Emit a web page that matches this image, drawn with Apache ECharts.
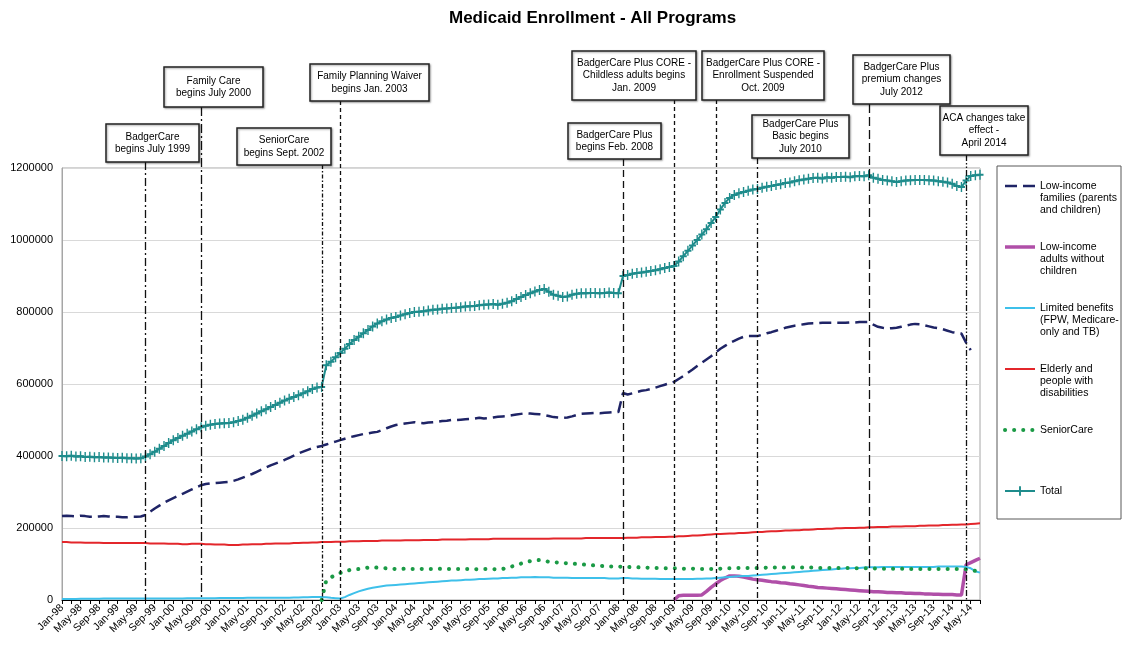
<!DOCTYPE html>
<html>
<head>
<meta charset="utf-8">
<script src="https://cdn.jsdelivr.net/npm/echarts@6/dist/echarts.min.js"></script>
<style>
  html, body { margin: 0; padding: 0; background: #fff; }
  #chart { width: 1122px; height: 645px; }
</style>
</head>
<body>
<div id="chart"></div>
<script>
// month labels Jan-98 .. Jul-14
const monthNames = ['Jan', 'Feb', 'Mar', 'Apr', 'May', 'Jun', 'Jul', 'Aug', 'Sep', 'Oct', 'Nov', 'Dec']
const firstYear = 1998
const lastYear = 2014
const lastMonthOfLastYear = 7

const seriesNames = [
  'Low-income families (parents and children)',
  'Low-income adults without children',
  'Limited benefits (FPW, Medicare-only and TB)',
  'Elderly and people with disabilities',
  'SeniorCare',
  'Total'
]
const legendLabels = [
  'Low-income\nfamilies (parents\nand children)',
  'Low-income\nadults without\nchildren',
  'Limited benefits\n(FPW, Medicare-\nonly and TB)',
  'Elderly and\npeople with\ndisabilities',
  'SeniorCare',
  'Total'
]

// monthly values, one row per year
const families = [
  233000, 234000, 233000, 232000, 234000, 233000, 231000, 231000, 232000, 233000, 232000, 231000,
  231000, 230000, 230000, 231000, 231000, 232000, 236000, 245000, 254000, 262000, 270000, 277000,
  283000, 289000, 295000, 301000, 307000, 313000, 319000, 322000, 324000, 325000, 326000, 327000,
  328000, 331000, 335000, 340000, 345000, 350000, 356000, 362000, 368000, 374000, 379000, 384000,
  389000, 395000, 401000, 407000, 412000, 417000, 422000, 425000, 428000, 432000, 436000, 440000,
  444000, 448000, 452000, 455000, 458000, 461000, 463000, 465000, 467000, 472000, 477000, 482000,
  486000, 488000, 490000, 492000, 494000, 492000, 491000, 493000, 494000, 495000, 497000, 498000,
  500000, 500000, 501000, 502000, 503000, 504000, 506000, 504000, 505000, 507000, 509000, 510000,
  511000, 513000, 515000, 517000, 519000, 518000, 517000, 516000, 514000, 511000, 508000, 507000,
  506000, 507000, 510000, 514000, 517000, 518000, 519000, 520000, 519000, 520000, 521000, 522000,
  522000, 575000, 571000, 574000, 578000, 581000, 583000, 586000, 590000, 594000, 598000, 602000,
  606000, 614000, 622000, 631000, 640000, 650000, 659000, 668000, 677000, 688000, 698000, 706000,
  714000, 720000, 726000, 731000, 733000, 733000, 733000, 737000, 741000, 744000, 748000, 752000,
  756000, 759000, 762000, 764000, 766000, 768000, 769000, 769000, 770000, 770000, 770000, 770000,
  770000, 770000, 771000, 771000, 772000, 772000, 772000, 765000, 759000, 756000, 754000, 755000,
  756000, 759000, 762000, 765000, 767000, 766000, 763000, 760000, 757000, 755000, 752000, 748000,
  744000, 742000, 740000, 715000, 694000
]
const adultsStart = 'Jan-09'
const adults = [
  0, 12000, 13000, 13000, 13000, 13000, 14000, 24000, 35000, 45000, 54000, 61000,
  67000, 67000, 66000, 64000, 61000, 58000, 56000, 55000, 53000, 51000, 50000, 48000,
  47000, 45000, 44000, 42000, 40000, 38000, 37000, 35000, 34000, 33000, 32000, 31000,
  30000, 29000, 28000, 27000, 26000, 25000, 24000, 23000, 23000, 22000, 21000, 21000,
  20000, 20000, 19000, 19000, 18000, 18000, 17000, 17000, 16000, 16000, 15000, 15000,
  15000, 14000, 14000, 98000, 104000, 110000, 116000
]
const limited = [
  3000, 3000, 3000, 3000, 3500, 3500, 3500, 3500, 3500, 4000, 4000, 4000,
  4000, 4000, 4000, 4000, 4000, 4500, 4500, 4500, 4500, 4500, 4500, 4500,
  4500, 4500, 4500, 5000, 5000, 5000, 5000, 5000, 5000, 5000, 5500, 5500,
  5500, 5500, 5500, 5500, 6000, 6000, 6000, 6000, 6000, 6000, 6000, 6000,
  6000, 6500, 7000, 7000, 7500, 7500, 8000, 8000, 8000, 7500, 6000, 5000,
  4000, 8000, 14000, 19000, 24000, 28000, 31000, 34000, 36000, 38000, 40000, 41000,
  42000, 43000, 44000, 45000, 46000, 47000, 48000, 49000, 50000, 51000, 52000, 53000,
  54000, 54000, 55000, 56000, 56000, 57000, 58000, 58000, 59000, 60000, 60000, 61000,
  61000, 62000, 62000, 63000, 63000, 63000, 64000, 63000, 63000, 63000, 62000, 62000,
  62000, 62000, 61000, 61000, 61000, 61000, 61000, 61000, 61000, 61000, 60000, 60000,
  60000, 61000, 61000, 60000, 60000, 59000, 59000, 59000, 59000, 58000, 58000, 58000,
  58000, 58000, 58000, 58000, 58000, 59000, 59000, 60000, 60000, 61000, 62000, 63000,
  64000, 65000, 66000, 67000, 67000, 68000, 69000, 70000, 71000, 72000, 73000, 74000,
  75000, 76000, 77000, 78000, 79000, 80000, 81000, 82000, 83000, 84000, 85000, 86000,
  87000, 88000, 88000, 89000, 89000, 90000, 91000, 91000, 91000, 92000, 92000, 92000,
  92000, 92000, 92000, 92000, 92000, 92000, 92000, 92000, 92000, 93000, 93000, 93000,
  93000, 93000, 93000, 92000, 88000, 80000, 76000
]
const elderly = [
  161000, 161000, 160000, 160000, 160000, 159000, 159000, 159000, 159000, 158000, 158000, 158000,
  158000, 158000, 158000, 158000, 158000, 158000, 158000, 157000, 157000, 157000, 157000, 156000,
  156000, 156000, 155000, 155000, 156000, 156000, 156000, 155000, 155000, 154000, 154000, 154000,
  153000, 153000, 153000, 154000, 154000, 155000, 155000, 155000, 156000, 156000, 157000, 157000,
  157000, 157000, 158000, 158000, 159000, 159000, 160000, 160000, 161000, 161000, 161000, 162000,
  162000, 162000, 163000, 163000, 163000, 164000, 164000, 164000, 164000, 165000, 165000, 165000,
  165000, 165000, 166000, 166000, 166000, 166000, 167000, 167000, 167000, 167000, 168000, 168000,
  168000, 168000, 168000, 168000, 169000, 169000, 169000, 169000, 169000, 170000, 170000, 170000,
  170000, 170000, 170000, 170000, 170000, 170000, 170000, 170000, 170000, 170000, 171000, 171000,
  171000, 171000, 171000, 171000, 171000, 172000, 172000, 172000, 172000, 172000, 172000, 172000,
  172000, 172000, 173000, 173000, 173000, 174000, 174000, 174000, 175000, 175000, 175000, 176000,
  176000, 177000, 177000, 178000, 179000, 179000, 180000, 181000, 182000, 183000, 183000, 184000,
  185000, 185000, 186000, 186000, 187000, 188000, 189000, 189000, 190000, 191000, 191000, 192000,
  193000, 193000, 194000, 194000, 195000, 195000, 196000, 197000, 197000, 198000, 198000, 199000,
  199000, 200000, 200000, 200000, 201000, 201000, 202000, 202000, 203000, 203000, 203000, 204000,
  204000, 204000, 205000, 205000, 205000, 206000, 206000, 207000, 207000, 207000, 208000, 208000,
  209000, 209000, 210000, 210000, 211000, 212000, 213000
]
const seniorStart = 'Sep-02'
const seniorCare = [
  0, 55000, 63000, 69000,
  75000, 80000, 83000, 85000, 86000, 88000, 90000, 91000, 90000, 89000, 88000, 87000,
  86000, 86000, 87000, 86000, 86000, 87000, 86000, 86000, 86000, 87000, 86000, 86000,
  86000, 86000, 86000, 86000, 86000, 86000, 85000, 86000, 86000, 86000, 85000, 86000,
  89000, 93000, 97000, 101000, 105000, 108000, 110000, 111000, 109000, 106000, 105000, 104000,
  103000, 102000, 101000, 100000, 99000, 98000, 97000, 96000, 95000, 94000, 93000, 93000,
  93000, 92000, 92000, 91000, 91000, 90000, 90000, 89000, 89000, 89000, 88000, 88000,
  88000, 88000, 87000, 87000, 87000, 86000, 86000, 86000, 86000, 86000, 87000, 88000,
  88000, 89000, 89000, 89000, 89000, 89000, 89000, 89000, 90000, 90000, 90000, 90000,
  90000, 90000, 91000, 90000, 90000, 90000, 90000, 89000, 89000, 89000, 89000, 89000,
  89000, 89000, 89000, 88000, 88000, 88000, 88000, 88000, 87000, 87000, 87000, 87000,
  87000, 87000, 87000, 86000, 86000, 86000, 86000, 86000, 86000, 86000, 86000, 86000,
  86000, 86000, 86000, 85000, 82000, 81000, 82000
]
const total = [
  400000, 399000, 400500, 398500, 399000, 397500, 398000, 396500, 397000, 396000, 395500, 395000,
  394500, 395000, 393500, 394000, 393000, 393500, 398500, 405000, 412000, 420000, 428000, 436000,
  444000, 450000, 456000, 462000, 468000, 474000, 480000, 484000, 487000, 489000, 490000, 491000,
  492000, 494000, 497000, 501000, 506000, 512000, 518000, 524000, 530000, 536000, 542000, 548000,
  554000, 559000, 564000, 569000, 574000, 580000, 586000, 590000, 592000, 652000, 662000, 674000,
  686000, 698000, 711000, 722000, 731000, 741000, 750000, 760000, 768000, 774000, 779000, 783000,
  786000, 790000, 794000, 797000, 800000, 801000, 802000, 804000, 806000, 807000, 809000, 810000,
  811000, 812000, 813000, 815000, 816000, 817000, 819000, 820000, 821000, 822000, 820000, 823000,
  826000, 830000, 836000, 842000, 847000, 852000, 857000, 861000, 864000, 856000, 848000, 845000,
  842000, 843000, 848000, 851000, 852000, 852000, 853000, 853000, 852000, 853000, 854000, 853000,
  852000, 900000, 903000, 906000, 908000, 910000, 912000, 914000, 916000, 919000, 922000, 925000,
  928000, 940000, 955000, 970000, 985000, 1000000, 1015000, 1030000, 1047000, 1064000, 1085000, 1103000,
  1117000, 1125000, 1130000, 1133000, 1137000, 1140000, 1142000, 1145000, 1148000, 1150000, 1153000, 1155000,
  1158000, 1160000, 1163000, 1166000, 1168000, 1170000, 1172000, 1173000, 1171000, 1174000, 1173000, 1175000,
  1175000, 1176000, 1174000, 1177000, 1178000, 1177000, 1180000, 1173000, 1170000, 1167000, 1165000, 1163000,
  1161000, 1163000, 1165000, 1166000, 1167000, 1167000, 1167000, 1166000, 1165000, 1163000, 1162000, 1160000,
  1156000, 1150000, 1147000, 1165000, 1178000, 1180000, 1181000
]

// program events: month, note, box [x, y, w, h], dash pattern
const events = [
  { month: 'Jul-99', text: 'BadgerCare\nbegins July 1999', box: [106, 124, 93, 38], dash: [8, 3, 2, 3] },
  { month: 'Jul-00', text: 'Family Care\nbegins July 2000', box: [164, 67, 99, 40], dash: [9, 3, 2, 3] },
  { month: 'Sep-02', text: 'SeniorCare\nbegins Sept. 2002', box: [237, 128, 94, 37], dash: [4, 2, 1.5, 2] },
  { month: 'Jan-03', text: 'Family Planning Waiver\nbegins Jan. 2003', box: [310, 64, 119, 37], dash: [4, 3] },
  { month: 'Feb-08', text: 'BadgerCare Plus\nbegins Feb. 2008', box: [568, 123, 93, 36], dash: [7, 4] },
  { month: 'Jan-09', text: 'BadgerCare Plus CORE -\nChildless adults begins\nJan. 2009', box: [572, 51, 124, 49], dash: [4, 3] },
  { month: 'Oct-09', text: 'BadgerCare Plus CORE -\nEnrollment Suspended\nOct. 2009', box: [702, 51, 122, 49], dash: [4, 3] },
  { month: 'Jul-10', text: 'BadgerCare Plus\nBasic begins\nJuly 2010', box: [752, 115, 97, 43], dash: [6, 3, 2, 3] },
  { month: 'Jul-12', text: 'BadgerCare Plus\npremium changes\nJuly 2012', box: [853, 55, 97, 49], dash: [9, 4] },
  { month: 'Apr-14', text: 'ACA changes take\neffect -\nApril 2014', box: [940, 106, 88, 49], dash: [6, 2, 1.5, 2, 1.5, 2] }
]

const categories = []
for (let y = firstYear; y <= lastYear; y++) {
  for (let m = 0; m < 12; m++) {
    if (y === lastYear && m >= lastMonthOfLastYear) break
    categories.push(monthNames[m] + '-' + String(y).slice(2))
  }
}
function padFrom (start, values) {
  return new Array(categories.indexOf(start)).fill(null).concat(values)
}

const font = 'Liberation Sans, Arial, sans-serif'
const colors = ['#1f2466', '#b04fa8', '#3ec0ea', '#e3262b', '#1a9a45', '#1e8c8c']
const lineStyles = [
  { width: 2.5, type: [12, 6] },
  { width: 3.5 },
  { width: 2 },
  { width: 2 },
  { width: 4, type: [0.1, 9], cap: 'round' },
  { width: 2 }
]
const seriesData = [families, padFrom(adultsStart, adults), limited, elderly, padFrom(seniorStart, seniorCare), total]

const chart = echarts.init(document.getElementById('chart'))
const option = {
  animation: false,
  title: {
    text: 'Medicaid Enrollment - All Programs',
    left: 444,
    top: 5,
    textStyle: { fontFamily: font, fontSize: 17, fontWeight: 'bold', color: '#000' }
  },
  grid: { left: 62, right: 142, top: 168, bottom: 45, show: true, borderColor: '#a6a6a6', borderWidth: 1 },
  legend: {
    orient: 'vertical',
    left: 1003,
    top: 156,
    padding: 0,
    itemGap: 1,
    itemWidth: 30,
    itemHeight: 12,
    data: seriesNames.map((n, i) => ({
      name: n,
      lineStyle: { width: lineStyles[i].width },
      itemStyle: { opacity: i === 5 ? 1 : 0 }
    })),
    formatter: name => {
      const label = legendLabels[seriesNames.indexOf(name)]
      const lines = label.split('\n').length
      return '\n\n' + label + '\n'.repeat(3 - lines)
    },
    textStyle: { fontFamily: font, fontSize: 10.5, lineHeight: 12, color: '#000' }
  },
  xAxis: {
    type: 'category',
    data: categories,
    boundaryGap: false,
    axisLine: { lineStyle: { color: '#000', width: 1 } },
    axisTick: { interval: 1, length: 4, lineStyle: { color: '#000' } },
    axisLabel: { interval: 3, rotate: 45, fontFamily: font, fontSize: 10.5, color: '#000', margin: 6 },
    splitLine: { show: false }
  },
  yAxis: {
    type: 'value',
    min: 0,
    max: 1200000,
    interval: 200000,
    axisLine: { show: true, lineStyle: { color: '#a6a6a6' } },
    axisTick: { show: false },
    axisLabel: { fontFamily: font, fontSize: 11, color: '#000', margin: 9, formatter: v => String(v) },
    splitLine: { lineStyle: { color: '#d9d9d9' } }
  },
  series: seriesNames.map((name, i) => ({
    name: name,
    type: 'line',
    data: seriesData[i],
    color: colors[i],
    lineStyle: lineStyles[i],
    symbol: i === 5 ? 'path://M4,0H6V4H10V6H6V10H4V6H0V4H4Z' : 'none',
    symbolSize: [7, 10],
    showSymbol: i === 5,
    showAllSymbol: true,
    itemStyle: { color: colors[i] },
    z: 2 + i
  }))
}
chart.setOption(option)

// program change notes and their vertical marker lines
const yBottom = chart.convertToPixel({ yAxisIndex: 0 }, 0)
const graphics = [{
  type: 'rect',
  shape: { x: 997, y: 166, width: 124, height: 353 },
  style: { fill: 'none', stroke: '#595959', lineWidth: 1 },
  z: 1
}]
events.forEach(ev => {
  const x = Math.round(chart.convertToPixel({ xAxisIndex: 0 }, ev.month)) + 0.5
  const [bx, by, bw, bh] = ev.box
  graphics.push({
    type: 'line',
    shape: { x1: x, y1: by + bh, x2: x, y2: yBottom },
    style: { stroke: '#111', lineWidth: 1.3, lineDash: ev.dash },
    z: 50
  })
  graphics.push({
    type: 'rect',
    shape: { x: bx, y: by, width: bw, height: bh },
    style: { fill: '#fff', stroke: '#222', lineWidth: 1.5, shadowBlur: 2, shadowOffsetX: 1, shadowOffsetY: 1, shadowColor: 'rgba(0,0,0,0.35)' },
    z: 51
  })
  graphics.push({
    type: 'text',
    style: {
      text: ev.text,
      x: bx + bw / 2,
      y: by + bh / 2,
      align: 'center',
      verticalAlign: 'middle',
      font: '10px ' + font,
      lineHeight: 12.5,
      fill: '#000'
    },
    z: 52
  })
})
chart.setOption({ graphic: graphics })
</script>
</body>
</html>
